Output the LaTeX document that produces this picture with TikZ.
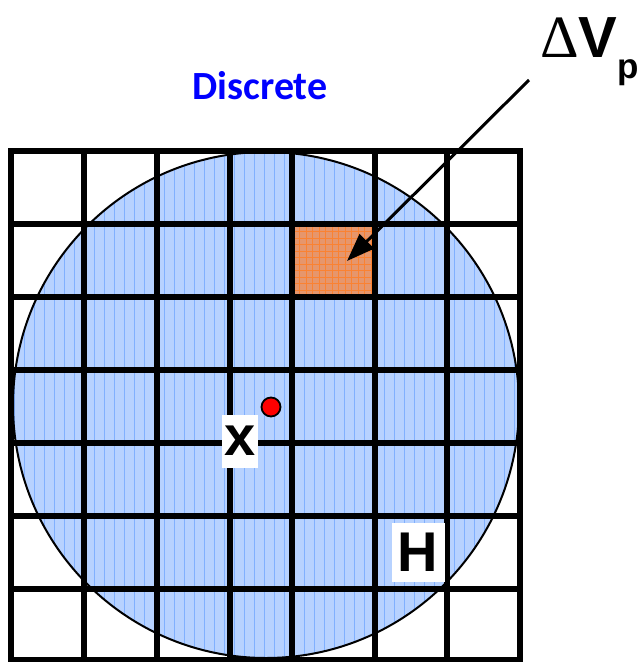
\documentclass[tikz,border=0pt]{standalone}
\usepackage{fontspec}
\setmainfont{Liberation Sans}
\newfontfamily\carl{Carlito}
\newfontfamily\lserif{Liberation Serif}
\usetikzlibrary{arrows.meta}
\definecolor{cfill}{RGB}{183,210,255}
\definecolor{cstripe}{RGB}{128,176,255}
\definecolor{ofill}{RGB}{230,150,108}
\definecolor{oline}{RGB}{250,130,50}
\definecolor{oborder}{RGB}{140,70,20}
\tikzset{
  gridline/.style={line width=6pt, line cap=rect},
  labelbox/.style={fill=white, inner sep=0pt, font=\bfseries\fontsize{56}{56}\selectfont},
}
\begin{document}
\begin{tikzpicture}[x=1pt,y=-1pt]
\useasboundingbox (0,0) rectangle (641,662);
% disc
\fill[cfill] (266,405) circle (253pt);
\begin{scope}
  \clip (266,405) circle (253pt);
  \foreach \i in {0,...,51}
    \draw[cstripe, line width=0.9pt] ({14+10*\i},150) -- ({14+10*\i},660);
\end{scope}
% orange cell
\fill[ofill] (292,224) rectangle (375,297);
\begin{scope}
  \clip (292,224) rectangle (375,297);
  \foreach \i in {0,...,13}
    \draw[oline, line width=0.6pt] ({293+6.5*\i},224) -- ({293+6.5*\i},297);
  \foreach \i in {0,...,11}
    \draw[oline, line width=0.6pt] (292,{225+6.5*\i}) -- (375,{225+6.5*\i});
\end{scope}
\draw[oborder, line width=1.5pt] (292,224) rectangle (375,297);
\draw[line width=2pt] (266,405) circle (253pt);
% grid
\foreach \v in {11,84,157,230,292,375,447,520}
  \draw[gridline] (\v,151) -- (\v,660);
\foreach \h in {151,224,297,370,443,516,589,660}
  \draw[gridline] (11,\h) -- (520,\h);
% point
\node[circle, fill=red, draw=black, line width=1.8pt, minimum size=19pt, inner sep=0pt] (pt) at (271,407) {};
\node[labelbox, minimum width=36pt, minimum height=53pt] (xl) at (240,441) {x};
\node[labelbox, minimum width=53pt, minimum height=59pt] (hl) at (418,552) {H};
\node[text=blue, font=\carl\bfseries\fontsize{40}{40}\selectfont] (disc) at (260,86) {Discrete};
\node[anchor=base west, inner sep=0pt] (dv) at (540,57)
  {{\lserif\fontsize{60}{60}\selectfont Δ}{\bfseries\fontsize{58}{58}\selectfont V}\raisebox{-21pt}{\bfseries\fontsize{35}{35}\selectfont p}};
\coordinate (as) at (529,80);
\coordinate (ae) at (347,261);
\draw[line width=3pt, -{Triangle[length=28pt,width=20pt]}] (as) -- (ae);
\end{tikzpicture}
\end{document}
